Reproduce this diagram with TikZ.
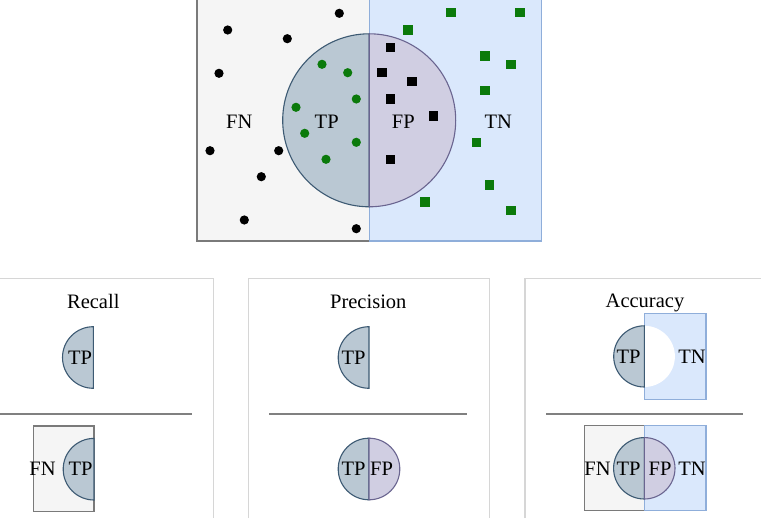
\documentclass[tikz,border=0pt]{standalone}
\usepackage{fontspec}
\setmainfont{Liberation Serif}
\definecolor{fnfill}{HTML}{F5F5F5}
\definecolor{fnline}{HTML}{7A7A7A}
\definecolor{tnfill}{HTML}{DAE8FC}
\definecolor{tnline}{HTML}{8FAEDA}
\definecolor{tpfill}{HTML}{BAC8D3}
\definecolor{tpline}{HTML}{3D5A73}
\definecolor{fpfill}{HTML}{D0CEE2}
\definecolor{fpline}{HTML}{6A6590}
\definecolor{dotgreen}{HTML}{0B7A0B}
\definecolor{panelline}{HTML}{D6D6D6}
\definecolor{divline}{HTML}{808080}
\tikzset{
  lbl/.style={inner sep=0pt, font=\fontsize{20.5}{24}\selectfont},
  fnbox/.style={fill=fnfill, draw=fnline, line width=1.1pt},
  tnbox/.style={fill=tnfill, draw=tnline, line width=1.1pt},
  tphalf/.style={fill=tpfill, draw=tpline, line width=1.1pt},
  fphalf/.style={fill=fpfill, draw=fpline, line width=1.1pt},
  panel/.style={draw=panelline, line width=1.3pt},
  divider/.style={draw=divline, line width=1.5pt},
  bdot/.style={circle, fill=black, inner sep=0pt, minimum size=9.2pt},
  gdot/.style={circle, fill=dotgreen, inner sep=0pt, minimum size=9.2pt},
  bsq/.style={rectangle, fill=black, inner sep=0pt, minimum size=9.5pt},
  gsq/.style={rectangle, fill=dotgreen, inner sep=0pt, minimum size=9.5pt},
}
\begin{document}
\begin{tikzpicture}[x=1pt,y=-1pt]
\useasboundingbox (0,0) rectangle (761,529);
\clip (0,0) rectangle (761,529);
% ---------- top diagram ----------
\path[fnbox] (197,-5) rectangle (369.5,241);
\path[tnbox] (369.5,-5) rectangle (541.5,241);
\path[tphalf] (369.2,206.8) arc[start angle=90,end angle=270,radius=86.5] -- cycle;
\path[fphalf] (369.2,206.8) arc[start angle=90,end angle=-90,radius=86.5] -- cycle;
% black dots (FN)
\foreach \p [count=\i] in {(339.3,13.3),(227.7,30),(287.3,38.7),(219,73.3),(210,150.7),(278.7,150.7),(261.3,176.7),(244.3,220),(356.3,228.7)}
  \node[bdot] (fn\i) at \p {};
% green dots (TP)
\foreach \p [count=\i] in {(322,64.3),(347.7,72.7),(356.3,99),(296,107.3),(304.7,133.3),(356.3,142.3),(326,159.3)}
  \node[gdot] (tp\i) at \p {};
% black squares (FP)
\foreach \p [count=\i] in {(390.7,47.7),(382,72.7),(412,81.3),(390.7,99),(433.7,116),(390.7,159.3)}
  \node[bsq] (fp\i) at \p {};
% green squares (TN)
\foreach \p [count=\i] in {(451,12.7),(520,12.7),(408,30),(485,56),(511,64.3),(485,90.3),(476.7,142.3),(489.7,185),(425,202),(511,210.7)}
  \node[gsq] (tn\i) at \p {};
\node[lbl] (lFN) at (239.3,121.7) {FN};
\node[lbl] (lTP) at (326.7,121.7) {TP};
\node[lbl] (lFP) at (403.3,121.7) {FP};
\node[lbl] (lTN) at (498.3,121.7) {TN};
% ---------- panels ----------
\draw[panel] (-2,278.3) -- (213.3,278.3) -- (213.3,518);
\draw[panel] (248.3,518) -- (248.3,278.3) -- (489.3,278.3) -- (489.3,518);
\draw[panel] (525,518) -- (525,278.3) -- (763,278.3);
% Recall
\node[lbl, anchor=base] (tRecall) at (93.3,308.3) {Recall};
\path[tphalf] (93.3,388.3) arc[start angle=90,end angle=270,radius=30.8] -- cycle;
\node[lbl] (rTP1) at (80,357.5) {TP};
\draw[divider] (-2,414) -- (191.7,414);
\path[fnbox] (33.3,426) rectangle (94,511.3);
\path[tphalf] (94,500) arc[start angle=90,end angle=270,radius=30.8] -- cycle;
\node[lbl] (rFN) at (42.5,469.2) {FN};
\node[lbl] (rTP2) at (80.5,469.2) {TP};
% Precision
\node[lbl, anchor=base] (tPrec) at (368.3,308.3) {Precision};
\path[tphalf] (369,388.3) arc[start angle=90,end angle=270,radius=30.8] -- cycle;
\node[lbl] (pTP1) at (353.5,357.5) {TP};
\draw[divider] (269.3,414) -- (467.3,414);
\path[tphalf] (369,499.8) arc[start angle=90,end angle=270,radius=30.8] -- cycle;
\path[fphalf] (369,499.8) arc[start angle=90,end angle=-90,radius=30.8] -- cycle;
\node[lbl] (pTP2) at (353.5,469) {TP};
\node[lbl] (pFP2) at (381.5,469) {FP};
% Accuracy
\node[lbl, anchor=base] (tAcc) at (645,307.5) {Accuracy};
\path[tnbox] (644.3,313.3) rectangle (706,399.3);
\fill[white] (644.3,387) arc[start angle=90,end angle=-90,radius=30.6] -- cycle;
\path[tphalf] (644.3,387) arc[start angle=90,end angle=270,radius=30.6] -- cycle;
\node[lbl] (aTP1) at (628.5,356.4) {TP};
\node[lbl] (aTN1) at (692,356.4) {TN};
\draw[divider] (546,414) -- (743.3,414);
\path[fnbox] (584.3,425.7) rectangle (644.3,510.7);
\path[tnbox] (644.3,425.7) rectangle (706,510.7);
\path[tphalf] (644.3,499) arc[start angle=90,end angle=270,radius=30.7] -- cycle;
\path[fphalf] (644.3,499) arc[start angle=90,end angle=-90,radius=30.7] -- cycle;
\node[lbl] (aFN2) at (597.5,468.3) {FN};
\node[lbl] (aTP2) at (628.5,468.3) {TP};
\node[lbl] (aFP2) at (660,468.3) {FP};
\node[lbl] (aTN2) at (692,468.3) {TN};
\end{tikzpicture}
\end{document}
